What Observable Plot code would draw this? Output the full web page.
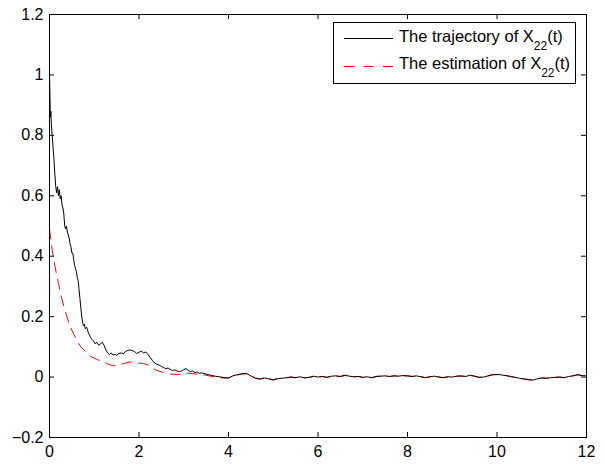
<!DOCTYPE html>
<html>
<head>
<meta charset="utf-8">
<script src="https://cdn.jsdelivr.net/npm/d3@7"></script>
<script src="https://cdn.jsdelivr.net/npm/@observablehq/plot@0.6"></script>
<style>
  html, body { margin: 0; padding: 0; background: #fff; }
  #wrap { position: relative; width: 605px; height: 464px; }
  #legend { position: absolute; left: 0; top: 0; pointer-events: none; }
  #legend text { font-family: "Liberation Sans", Arial, sans-serif; font-size: 16.5px; fill: #000; }
  #legend tspan.sub { font-size: 12px; }
</style>
</head>
<body>
<div id="wrap">
  <div id="chart"></div>
  <svg id="legend" width="605" height="464">
    <rect x="333.5" y="22.5" width="242" height="61" fill="#fff" stroke="#000" stroke-width="1"/>
    <line x1="344" x2="393" y1="38.5" y2="38.5" stroke="#000" stroke-width="1"/>
    <text x="399" y="42">The trajectory of X<tspan class="sub" dy="8">22</tspan><tspan dy="-8">(t)</tspan></text>
    <line x1="344" x2="393" y1="66.5" y2="66.5" stroke="#ff0000" stroke-width="1" stroke-dasharray="10,9.5"/>
    <text x="399" y="69">The estimation of X<tspan class="sub" dy="8">22</tspan><tspan dy="-8">(t)</tspan></text>
  </svg>
</div>
<script>
// Data
const trajT = [0,0.01,0.02,0.03,0.04,0.06,0.08,0.10,0.12,0.14,0.16,0.18,0.20,0.22,0.24,0.26,0.28,0.30,0.32,0.34,0.36,0.38,0.40,0.42,0.44,0.46,0.48,0.50,0.52,0.54,0.56,0.58,0.60,0.62,0.64,0.66,0.68,0.70,0.72,0.74,0.76,0.78,0.80,0.83,0.86,0.89,0.92,0.95,0.98,1.02,1.06,1.10,1.14,1.18,1.22,1.26,1.30,1.34,1.38,1.42,1.46,1.50,1.55,1.60,1.65,1.70,1.75,1.80,1.85,1.90,1.95,2.00,2.05,2.10,2.15,2.20,2.25,2.30,2.35,2.40,2.45,2.50,2.55,2.60,2.65,2.70,2.75,2.80,2.85,2.90,2.95,3.00,3.05,3.10,3.15,3.20,3.25,3.30,3.35,3.40,3.50,3.60,3.70,3.80,3.90,4.00,4.10,4.20,4.30,4.40,4.50,4.60,4.70,4.80,4.90,5.00,5.10,5.20,5.30,5.40,5.50,5.60,5.70,5.80,5.90,6.00,6.10,6.20,6.30,6.40,6.50,6.60,6.70,6.80,6.90,7.00,7.10,7.20,7.30,7.40,7.50,7.60,7.70,7.80,7.90,8.00,8.10,8.20,8.30,8.40,8.50,8.60,8.70,8.80,8.90,9.00,9.10,9.20,9.30,9.40,9.50,9.60,9.70,9.80,9.90,10.00,10.10,10.20,10.30,10.40,10.50,10.60,10.70,10.80,10.90,11.00,11.10,11.20,11.30,11.40,11.50,11.60,11.70,11.80,11.90,12.00];
const trajV = [1.0,0.93,0.86,0.88,0.84,0.80,0.76,0.72,0.67,0.63,0.61,0.63,0.60,0.62,0.59,0.60,0.57,0.56,0.54,0.50,0.49,0.50,0.48,0.47,0.46,0.44,0.43,0.41,0.41,0.39,0.37,0.36,0.35,0.33,0.32,0.29,0.26,0.23,0.20,0.18,0.17,0.175,0.16,0.165,0.15,0.14,0.13,0.125,0.12,0.11,0.115,0.105,0.11,0.115,0.105,0.09,0.08,0.075,0.08,0.073,0.075,0.072,0.078,0.08,0.077,0.085,0.088,0.09,0.087,0.085,0.078,0.082,0.086,0.08,0.083,0.075,0.065,0.055,0.046,0.042,0.04,0.035,0.032,0.028,0.03,0.025,0.022,0.024,0.02,0.018,0.02,0.025,0.028,0.022,0.018,0.02,0.015,0.017,0.012,0.014,0.01,0.006,0.003,0.001,-0.002,-0.003,0.004,0.008,0.011,0.012,0.004,-0.004,-0.007,-0.003,-0.006,-0.01,-0.005,-0.004,-0.002,0.0,-0.002,0.001,-0.003,-0.001,0.003,0.0,0.002,-0.001,0.003,0.004,0.002,0.006,0.003,0.001,0.002,-0.001,0.001,-0.002,0.002,0.003,0.004,0.002,0.004,0.003,0.005,0.004,0.002,0.004,0.001,-0.002,0.001,0.003,0.0,-0.002,0.001,0.0,0.003,0.004,0.002,0.006,0.003,-0.001,0.0,0.004,0.008,0.009,0.007,0.005,0.002,-0.001,-0.004,-0.006,-0.009,-0.01,-0.006,-0.003,-0.004,-0.002,-0.001,0.0,-0.002,0.002,0.004,0.008,0.005,0.004];

const estT = [0,0.05,0.10,0.15,0.20,0.25,0.30,0.35,0.40,0.45,0.50,0.55,0.60,0.65,0.70,0.80,0.90,1.00,1.10,1.20,1.30,1.40,1.50,1.60,1.70,1.80,1.90,2.00,2.10,2.20,2.30,2.40,2.50,2.60,2.70,2.80,2.90,3.00,3.10,3.20,3.30,3.40,3.50,3.60,3.70,3.80,3.90,4.00,4.10,4.20,4.30,4.40,4.50,4.60,4.70,4.80,4.90,5.00,5.10,5.20,5.30,5.40,5.50,5.60,5.70,5.80,5.90,6.00,6.10,6.20,6.30,6.40,6.50,6.60,6.70,6.80,6.90,7.00,7.10,7.20,7.30,7.40,7.50,7.60,7.70,7.80,7.90,8.00,8.10,8.20,8.30,8.40,8.50,8.60,8.70,8.80,8.90,9.00,9.10,9.20,9.30,9.40,9.50,9.60,9.70,9.80,9.90,10.00,10.10,10.20,10.30,10.40,10.50,10.60,10.70,10.80,10.90,11.00,11.10,11.20,11.30,11.40,11.50,11.60,11.70,11.80,11.90,12.00];
const estV = [0.49,0.43,0.385,0.345,0.31,0.275,0.245,0.22,0.195,0.172,0.155,0.14,0.125,0.112,0.10,0.085,0.07,0.062,0.056,0.05,0.044,0.038,0.037,0.042,0.046,0.05,0.05,0.046,0.045,0.04,0.03,0.022,0.017,0.013,0.01,0.009,0.009,0.012,0.013,0.011,0.01,0.009,0.006,0.003,0.0,-0.002,-0.003,-0.003,0.003,0.007,0.01,0.011,0.004,-0.003,-0.006,-0.003,-0.005,-0.009,-0.005,-0.004,-0.002,0.0,-0.002,0.001,-0.002,-0.001,0.002,0.0,0.002,-0.001,0.003,0.003,0.002,0.005,0.003,0.001,0.002,-0.001,0.001,-0.002,0.002,0.003,0.003,0.002,0.004,0.003,0.004,0.004,0.002,0.003,0.001,-0.002,0.001,0.002,0.0,-0.002,0.001,0.0,0.003,0.003,0.002,0.005,0.003,-0.001,0.0,0.004,0.007,0.008,0.007,0.005,0.002,-0.001,-0.004,-0.006,-0.008,-0.009,-0.006,-0.003,-0.004,-0.002,-0.001,0.0,-0.002,0.002,0.004,0.007,0.005,0.004];

const xTicks = [0,2,4,6,8,10,12];
const yTicks = [-0.2,0,0.2,0.4,0.6,0.8,1,1.2];

const traj = trajT.map((t, i) => ({t, v: trajV[i]}));
const est = estT.map((t, i) => ({t, v: estV[i]}));

const W = 605, H = 464, mL = 49, mR = 19, mT = 14, mB = 27;
const innerW = W - mL - mR, innerH = H - mT - mB;
const tk = 5;
const fmt = d3.format("~g");

const chart = Plot.plot({
  width: W, height: H,
  marginLeft: mL, marginRight: mR, marginTop: mT, marginBottom: mB,
  style: {fontFamily: "'Liberation Sans', Arial, sans-serif", fontSize: "16px", background: "#fff", color: "#000"},
  x: {domain: [0, 12]},
  y: {domain: [-0.2, 1.2]},
  marks: [
    Plot.line(est, {x: "t", y: "v", stroke: "#ff0000", strokeWidth: 1, strokeDasharray: "10,7"}),
    Plot.line(traj, {x: "t", y: "v", stroke: "#000", strokeWidth: 1}),
    // inward ticks on all four sides
    Plot.ruleX(xTicks, {x: d => d, insetTop: innerH - tk, stroke: "#000"}),
    Plot.ruleX(xTicks, {x: d => d, insetBottom: innerH - tk, stroke: "#000"}),
    Plot.ruleY(yTicks, {y: d => d, insetRight: innerW - tk, stroke: "#000"}),
    Plot.ruleY(yTicks, {y: d => d, insetLeft: innerW - tk, stroke: "#000"}),
    Plot.axisX(xTicks, {tickSize: 0, tickPadding: 8, tickFormat: fmt, fontSize: 16, label: null}),
    Plot.axisY(yTicks, {tickSize: 0, tickPadding: 6, tickFormat: fmt, fontSize: 16, label: null}),
    Plot.frame({stroke: "#000", strokeWidth: 1})
  ]
});
document.getElementById("chart").appendChild(chart);
</script>
</body>
</html>
